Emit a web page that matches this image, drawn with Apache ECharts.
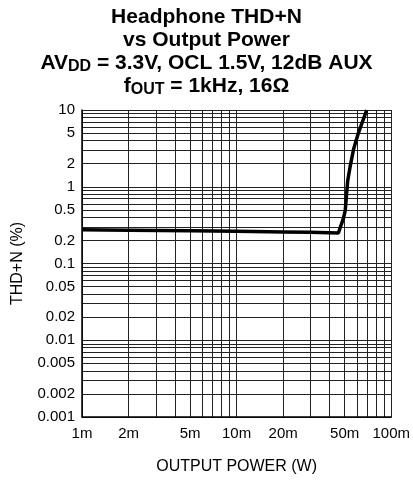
<!DOCTYPE html>
<html>
<head>
<meta charset="utf-8">
<script src="https://cdn.jsdelivr.net/npm/echarts@6/dist/echarts.min.js"></script>
<style>
html,body{margin:0;padding:0;background:#fff;}
#chart{width:413px;height:480px;}
</style>
</head>
<body>
<div id="chart"></div>
<script>
// Data (output power in W, THD+N in %)
const powerW = [0.001, 0.002, 0.005, 0.01, 0.02, 0.03, 0.0455, 0.049, 0.0504, 0.0523, 0.0543, 0.057, 0.0613, 0.0694];
const thdPct = [0.275, 0.272, 0.267, 0.263, 0.258, 0.255, 0.25, 0.385, 0.49, 1.2, 1.86, 3.06, 5.0, 10];

const xTickValues = [0.001, 0.002, 0.005, 0.01, 0.02, 0.05, 0.1];
const xTickLabels = ['1m', '2m', '5m', '10m', '20m', '50m', '100m'];
const yTickValues = [0.001, 0.002, 0.005, 0.01, 0.02, 0.05, 0.1, 0.2, 0.5, 1, 2, 5, 10];
const yTickLabels = ['0.001', '0.002', '0.005', '0.01', '0.02', '0.05', '0.1', '0.2', '0.5', '1', '2', '5', '10'];

const xGridValues = [];
[0.001, 0.01].forEach(d => { for (let k = 1; k <= 9; k++) xGridValues.push(+(d * k).toPrecision(3)); });
xGridValues.push(0.1);
const yGridValues = [];
[0.001, 0.01, 0.1, 1].forEach(d => { for (let k = 1; k <= 9; k++) yGridValues.push(+(d * k).toPrecision(3)); });
yGridValues.push(10);

function findLabel(vals, labels, v) {
  for (let i = 0; i < vals.length; i++) {
    if (Math.abs(vals[i] - v) / vals[i] < 1e-6) return labels[i];
  }
  return '';
}

const chart = echarts.init(document.getElementById('chart'), null, {renderer: 'canvas'});
const FONT = 'Liberation Sans, Arial, sans-serif';
chart.setOption({
  animation: false,
  backgroundColor: '#fff',
  title: {
    text: 'Headphone THD+N\nvs Output Power\n{b|AV}{s|DD}{b| = 3.3V, OCL 1.5V, 12dB AUX}\n{b|f}{s|OUT}{b| = 1kHz, 16Ω}',
    left: 'center',
    top: 1,
    textStyle: {
      fontFamily: FONT, fontSize: 21, fontWeight: 'bold', color: '#000', lineHeight: 23,
      rich: {
        b: {fontFamily: FONT, fontSize: 21, fontWeight: 'bold', color: '#000', lineHeight: 23},
        s: {fontFamily: FONT, fontSize: 16, fontWeight: 'bold', color: '#000', lineHeight: 14, verticalAlign: 'bottom'}
      }
    }
  },
  grid: {left: 82, right: 20, top: 110, bottom: 59, containLabel: false},
  xAxis: {
    type: 'log', logBase: 10, min: 0.001, max: 0.1,
    name: 'OUTPUT POWER (W)', nameLocation: 'middle', nameGap: 42,
    nameTextStyle: {fontFamily: FONT, fontSize: 16, color: '#000'},
    axisLine: {show: true, lineStyle: {color: '#000', width: 1.5}},
    axisTick: {show: false, customValues: xGridValues},
    axisLabel: {customValues: xTickValues, fontFamily: FONT, fontSize: 15, color: '#000', margin: 9,
      formatter: v => findLabel(xTickValues, xTickLabels, v)},
    splitLine: {show: true, lineStyle: {color: '#222', width: 1}}
  },
  yAxis: {
    type: 'log', logBase: 10, min: 0.001, max: 10,
    name: 'THD+N (%)', nameLocation: 'middle', nameGap: 56,
    nameTextStyle: {fontFamily: FONT, fontSize: 16, color: '#000'},
    axisLine: {show: true, lineStyle: {color: '#000', width: 1.5}},
    axisTick: {show: false, customValues: yGridValues},
    axisLabel: {customValues: yTickValues, fontFamily: FONT, fontSize: 15, color: '#000', margin: 7,
      formatter: v => findLabel(yTickValues, yTickLabels, v)},
    splitLine: {show: true, lineStyle: {color: '#222', width: 1}}
  },
  series: [{
    type: 'line',
    data: powerW.map((p, i) => [p, thdPct[i]]),
    showSymbol: false,
    symbol: 'none',
    lineStyle: {color: '#000', width: 3.5},
    smooth: false
  }]
});
</script>
</body>
</html>
